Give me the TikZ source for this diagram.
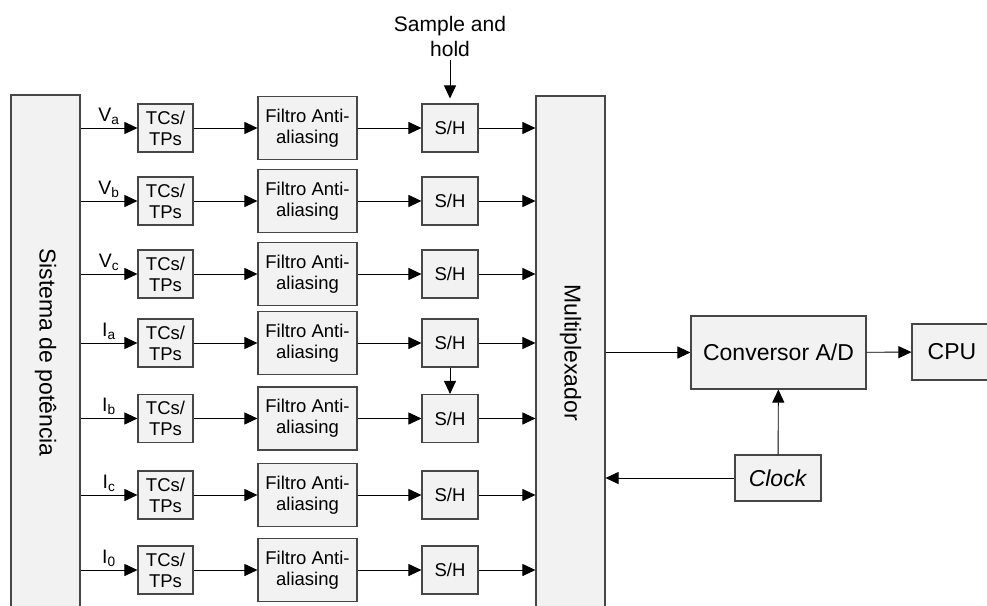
\documentclass[tikz,border=0pt]{standalone}
\usepackage{fontspec}
\setmainfont{Liberation Sans}
\usetikzlibrary{arrows.meta, positioning, calc}
\definecolor{boxgray}{RGB}{242,242,242}
\definecolor{edgegray}{RGB}{70,70,70}

\begin{document}
\begin{tikzpicture}[
  x=1pt, y=-1pt,
  blk/.style={rectangle, draw=edgegray, fill=boxgray, line width=1.1pt, inner sep=0pt,
              align=center, font=\fontsize{18.5}{21}\selectfont},
  tcbox/.style={blk, minimum width=55pt, minimum height=48pt},
  filt/.style={blk, minimum width=99pt, minimum height=63pt},
  shbox/.style={blk, minimum width=56pt, minimum height=48pt},
  bigbox/.style={blk, font=\fontsize{23}{27}\selectfont},
  sig/.style={font=\fontsize{19.5}{21}\selectfont, inner sep=3pt},
  arrow/.style={-{Triangle[length=13pt, width=12pt]}, line width=0.9pt, black}
]
\useasboundingbox (0,0) rectangle (987,605);
\clip (0,0) rectangle (987,605);

\node[bigbox, minimum width=69pt, minimum height=515pt] (sis) at (45.5,352.5) {\rotatebox{-90}{Sistema de potência}};
\node[bigbox, minimum width=69pt, minimum height=513pt] (mux) at (570.5,352.5) {\rotatebox{-90}{Multiplexador}};

\foreach \i/\yy/\lab in {1/128/V\textsubscript{a}, 2/201/V\textsubscript{b}, 3/274/V\textsubscript{c},
  4/343/I\textsubscript{a}, 5/418.5/I\textsubscript{b}, 6/495/I\textsubscript{c}, 7/570/I\textsubscript{0}}{
  \node[tcbox] (tc\i) at (165.5,\yy) {TCs/\\TPs};
  \node[filt] (fa\i) at (307.5,\yy) {Filtro Anti-\\aliasing};
  \node[shbox] (sh\i) at (450,\yy) {S/H};
  \draw[arrow] (sis.east |- tc\i) -- node[sig, above] {\lab} (tc\i);
  \draw[arrow] (tc\i) -- (fa\i);
  \draw[arrow] (fa\i) -- (sh\i);
  \draw[arrow] (sh\i) -- (mux.west |- sh\i);
}

\node[align=center, font=\fontsize{21}{25}\selectfont] (sah) at (450,36) {Sample and\\hold};
\draw[arrow, shorten >=5pt] (sah) -- (sh1);
\draw[arrow] (sh4) -- (sh5);

\node[bigbox, minimum width=175pt, minimum height=73pt] (adc) at (778.5,352.5) {Conversor A/D};
\node[bigbox, minimum width=80pt, minimum height=56pt] (cpu) at (952,352) {CPU};
\node[bigbox, minimum width=86pt, minimum height=46pt] (clk) at (778,478) {\textit{Clock}};

\draw[arrow] (mux.east |- adc) -- (adc);
\draw[arrow] (adc) -- (cpu);
\draw[arrow] (clk) -- (adc);
\draw[arrow] (clk) -- (clk -| mux.east);
\end{tikzpicture}
\end{document}
